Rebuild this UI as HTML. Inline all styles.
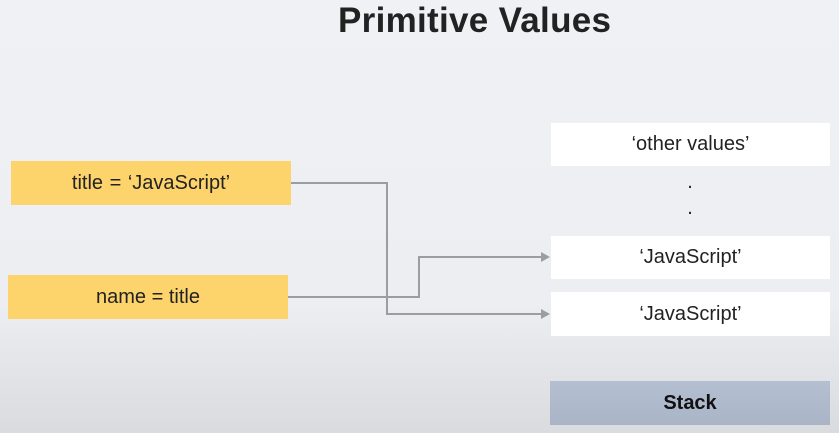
<!DOCTYPE html>
<html><head><style>
body{margin:0;width:839px;height:433px;overflow:hidden;position:relative;font-family:"Liberation Sans",sans-serif;background:linear-gradient(#eff1f4 0%,#eceef2 70%,#d9dbde 100%);}
.b{position:absolute;display:flex;align-items:center;justify-content:center;font-size:20px;color:#222;}
.y{background:#fdd36b;}
.w{background:#fff;}
.t{position:absolute;left:338px;top:1px;margin:0;font-size:35px;line-height:40px;font-weight:bold;color:#222;letter-spacing:0.3px}
</style></head><body>
<div class="t">Primitive Values</div>
<div class="b y" style="left:11px;top:161px;width:280px;height:44px;word-spacing:1px">title = ‘JavaScript’</div>
<div class="b y" style="left:8px;top:275px;width:280px;height:44px">name = title</div>
<div class="b w" style="left:551px;top:123px;width:279px;height:43px">‘other values’</div>
<div class="b" style="left:680px;top:172px;width:20px;height:20px">.</div>
<div class="b" style="left:680px;top:198px;width:20px;height:20px">.</div>
<div class="b w" style="left:551px;top:236px;width:279px;height:43px">‘JavaScript’</div>
<div class="b w" style="left:551px;top:292px;width:279px;height:44px">‘JavaScript’</div>
<div class="b" style="left:550px;top:381px;width:280px;height:44px;background:linear-gradient(#b4c0d2,#a9b5c6);font-weight:bold;color:#111">Stack</div>
<svg width="839" height="433" style="position:absolute;left:0;top:0">
<g fill="none" stroke="#9a9da2" stroke-width="2">
<polyline points="291,183 387,183 387,314 542,314"/>
<polyline points="288,297 419,297 419,257 542,257"/>
</g>
<g fill="#9a9da2">
<polygon points="550,257 541,252 541,262"/>
<polygon points="550,314 541,309 541,319"/>
</g>
</svg>
</body></html>
